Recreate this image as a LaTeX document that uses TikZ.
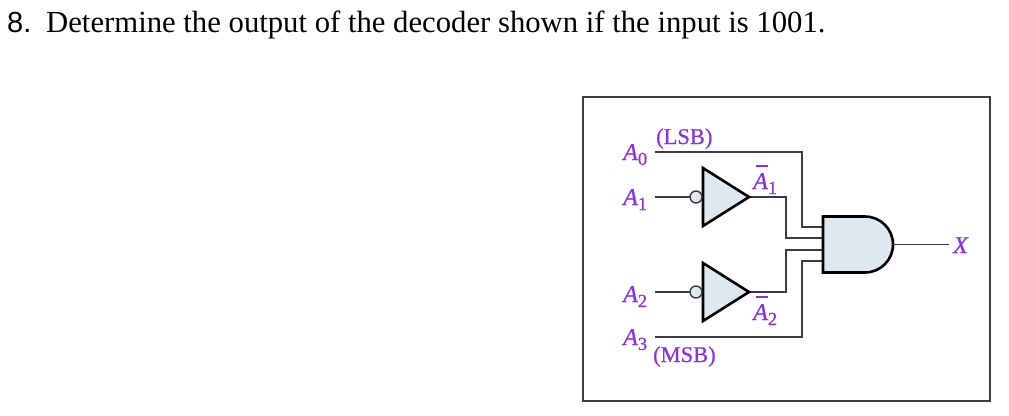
\documentclass[tikz,border=0pt]{standalone}
\usepackage{fontspec}
\setmainfont{Liberation Serif}
\newfontfamily\labelfont[FakeBold=0.6]{Liberation Serif}
\newfontfamily\numfont{Liberation Sans}
\usetikzlibrary{shapes.geometric,shapes.gates.logic.US}
\definecolor{labelpurple}{HTML}{8B2FE0}
\definecolor{gatefill}{HTML}{DDE9EF}
\definecolor{wiregray}{HTML}{3C3C3C}
\newcommand{\sig}[1]{\textit{A}\raisebox{-5pt}{\fontsize{18.5}{18.5}\selectfont #1}}
\newcommand{\sigbar}[1]{\rlap{\hspace{2.5pt}\raisebox{22.5pt}{\rule{12.5pt}{1.3pt}}}\sig{#1}}
\tikzset{
	wire/.style={draw=wiregray,line width=1.8pt},
	sigla/.style={text=labelpurple,inner sep=0pt,anchor=base west,font=\labelfont\fontsize{22.5}{22.5}\selectfont},
	siga/.style={sigla,font=\labelfont\fontsize{24}{24}\selectfont},
	buf/.style={draw=black,fill=gatefill,line width=2.6pt,isosceles triangle,isosceles triangle stretches,shape border rotate=0,minimum width=58pt,minimum height=46pt,inner sep=0pt,outer sep=0pt},
	bub/.style={draw=wiregray,fill=gatefill,line width=1.4pt,circle,minimum size=12pt,inner sep=0pt,outer sep=0pt},
	andg/.style={draw=black,fill=gatefill,line width=2.6pt,and gate US,logic gate inputs=nnnn,minimum width=70pt,minimum height=51pt,inner sep=0pt,outer sep=0pt}
}
\begin{document}
\begin{tikzpicture}[x=1pt,y=-1pt]
	\useasboundingbox (0,0) rectangle (1009,415);
	\node[anchor=base west,inner sep=0pt,font=\numfont\fontsize{29}{29}\selectfont] (qnum) at (7,32) {8.};
	\node[anchor=base west,inner sep=0pt,font=\fontsize{30.7}{30.7}\selectfont] (question) at (46,32) {Determine the output of the decoder shown if the input is 1001.};
	\node[draw=wiregray,line width=2pt,minimum width=407pt,minimum height=304pt,inner sep=0pt] (frame) at (786.5,249) {};
	
	% free ends and corners
	\coordinate (a0) at (655,152);
	\coordinate (a1) at (655,197);
	\coordinate (a2) at (655,292);
	\coordinate (a3) at (655,337);
	\coordinate (in0) at (823,227);
	\coordinate (in1) at (823,238);
	\coordinate (in2) at (823,250);
	\coordinate (in3) at (823,261);
	\coordinate (xend) at (949,244.5);
	
	% wires under the gates
	\draw[wire] (a0) -- (802,152) -- (802,227) -- (in0);
	\draw[wire] (749,197) -- (786,197) -- (786,238) -- (in1);
	\draw[wire] (749,292) -- (786,292) -- (786,250) -- (in2);
	\draw[wire] (a3) -- (802,337) -- (802,261) -- (in3);
	
	% gates
	\node[buf,anchor=lower side] (inva) at (703,197) {};
	\node[buf,anchor=lower side] (invb) at (703,292) {};
	\node[bub] (buba) at (696,197) {};
	\node[bub] (bubb) at (696,292) {};
	\node[andg,anchor=west] (gate) at (823,244.5) {};
	
	\draw[wire] (a1) -- (buba);
	\draw[wire] (a2) -- (bubb);
	\draw[wire,line width=1.4pt] (gate.east) -- (xend);
	
	% labels
	\node[sigla] (lsb) at (656,144) {(LSB)};
	\node[sigla] (msb) at (653,362) {(MSB)};
	\node[siga] (la0) at (623,160) {\sig{0}};
	\node[siga] (la1) at (623,205) {\sig{1}};
	\node[siga] (la2) at (623,302) {\sig{2}};
	\node[siga] (la3) at (623,345) {\sig{3}};
	\node[siga] (lb1) at (753,189) {\sigbar{1}};
	\node[siga] (lb2) at (753,320) {\sigbar{2}};
	\node[siga] (lx) at (953,253) {\textit{X}};
\end{tikzpicture}
\end{document}
